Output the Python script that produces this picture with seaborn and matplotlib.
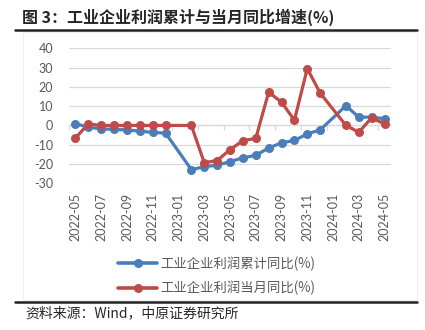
import numpy as np
import pandas as pd
import matplotlib
matplotlib.use('Agg')
import matplotlib.pyplot as plt
from matplotlib.lines import Line2D
from matplotlib.patches import Rectangle
import seaborn as sns

months = ['2022-05', '2022-06', '2022-07', '2022-08', '2022-09', '2022-10', '2022-11', '2022-12',
          '2023-01', '2023-02', '2023-03', '2023-04', '2023-05', '2023-06', '2023-07', '2023-08',
          '2023-09', '2023-10', '2023-11', '2023-12', '2024-01', '2024-02', '2024-03', '2024-04',
          '2024-05']
cum_yoy = [1.0, -1.0, -1.7, -2.1, -2.3, -3.0, -3.6, -4.0, np.nan, -22.9, -21.4, -20.6, -18.8,
           -16.8, -15.5, -11.7, -9.0, -7.8, -4.4, -2.3, np.nan, 10.2, 4.3, 4.3, 3.5]
mon_yoy = [-6.5, 0.8, 0.0, 0.0, 0.0, 0.0, 0.0, 0.0, np.nan, 0.0, -19.3, -18.2, -12.6,
           -7.9, -6.7, 17.2, 12.1, 2.7, 29.5, 16.8, np.nan, 0.0, -3.5, 4.0, 0.7]
series_names = ['工业企业利润累计同比(%)', '工业企业利润当月同比(%)']
colors = ['#4A7EBB', '#BE4B48']
yticks = [-30, -20, -10, 0, 10, 20, 30, 40]

title = '图 3：工业企业利润累计与当月同比增速(%)'
source = '资料来源：Wind，中原证券研究所'

sns.set_style('white')
plt.rcParams['font.family'] = ['Noto Sans CJK SC', 'DejaVu Sans']

rows = []
for name, vals in zip(series_names, [cum_yoy, mon_yoy]):
    for i, (m, v) in enumerate(zip(months, vals)):
        rows.append({'idx': i, 'month': m, 'value': v, 'series': name})
df = pd.DataFrame(rows).dropna()

fig = plt.figure(figsize=(4.25, 3.3), dpi=100)
ax = fig.add_axes([69/425, 146.7/330, 322/425, 135/330])

sns.lineplot(data=df, x='idx', y='value', hue='series', hue_order=series_names,
             palette=dict(zip(series_names, colors)), marker='o', markersize=6.5,
             markeredgewidth=0, linewidth=2.3, ax=ax, legend=True)

ax.set_xlim(-0.5, len(months) - 0.5)
ax.set_ylim(-30, 40)
ax.set_yticks(yticks)
ax.set_yticklabels([str(t) for t in yticks], family='Lato', fontsize=9, color='#595959')
ax.set_xticks(range(0, len(months), 2))
ax.set_xticklabels(months[::2], rotation=90, family='Lato', fontsize=9, color='#595959')
ax.tick_params(axis='y', length=0, pad=11.5)
ax.tick_params(axis='x', length=0, pad=7)
ax.set_xlabel('')
ax.set_ylabel('')
for s in ax.spines.values():
    s.set_visible(False)
ax.yaxis.grid(True, color='#D9D9D9', linewidth=0.9)
ax.xaxis.grid(False)
ax.set_axisbelow(True)

sec = ax.secondary_xaxis(0, transform=ax.transData)
sec.set_xticks(np.arange(-0.5, len(months), 2))
sec.tick_params(axis='x', length=3.5, width=0.9, color='#D9D9D9', labelbottom=False)
sec.spines['bottom'].set_color('#D9D9D9')
sec.spines['bottom'].set_linewidth(0.9)

handles, labels = ax.get_legend_handles_labels()
ax.get_legend().remove()
leg = fig.legend(handles, labels, loc='center', bbox_to_anchor=(217/425, 1 - 276/330),
                 ncol=1, frameon=False, fontsize=9.6, handlelength=2.9, labelspacing=0.75,
                 handletextpad=0.25)
for t in leg.get_texts():
    t.set_color('#595959')
for h in leg.legend_handles:
    h.set_linewidth(2.6)

fig.text(22/425, 1 - 17/330, title, fontsize=11.5, fontweight='bold', va='center', ha='left')
fig.add_artist(Line2D([15/425, 417/425], [1 - 30/330, 1 - 30/330], color='#222222', linewidth=1.8))
fig.add_artist(Line2D([15/425, 417/425], [1 - 302/330, 1 - 302/330], color='#222222', linewidth=1.8))
fig.add_artist(Rectangle((23/425, 1 - 300/330), 394/425, 268/330, fill=False,
                         edgecolor='#F0F0F0', linewidth=0.8))
fig.text(25/425, 1 - 313/330, source, fontsize=10, va='center', ha='left')

fig.savefig('out.png', dpi=100)
